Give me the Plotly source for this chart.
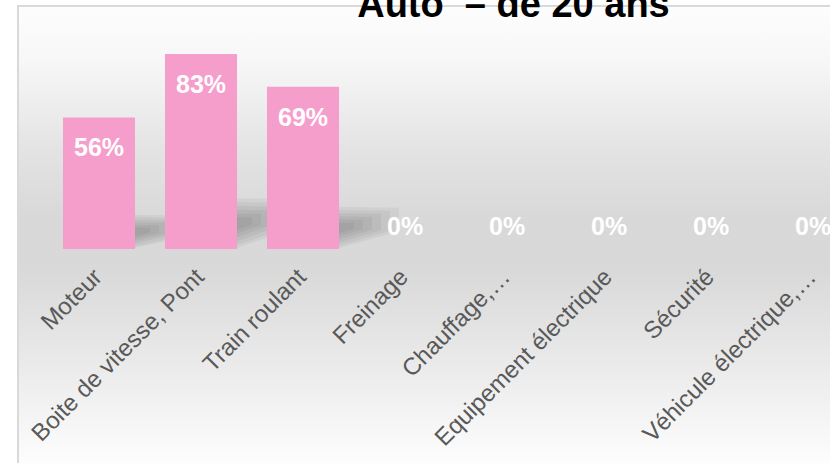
import base64
import plotly.graph_objects as go

categories = ["Moteur", "Boite de vitesse, Pont", "Train roulant", "Freinage",
              "Chauffage,…", "Equipement électrique", "Sécurité", "Véhicule électrique,…"]
values = [56, 83, 69, 0, 0, 0, 0, 0]
labels = [f"{v}%" for v in values]
title = "Auto  – de 20 ans"

W, H = 830, 463
ML, MR, MT, MB = 48, 0, 14, 214
PW, PH = W - ML - MR, H - MT - MB
cat_px = 102
bar_w = 0.706

bar_color = "#F59ECB"
idx = list(range(len(categories)))

svg = f"""<svg xmlns='http://www.w3.org/2000/svg' width='{W}' height='{H}' viewBox='0 0 {W} {H}' preserveAspectRatio='none'>
<defs><linearGradient id='g' gradientUnits='userSpaceOnUse' x1='0' y1='6' x2='0' y2='463'>
<stop offset='0' stop-color='#fdfdfd'/>
<stop offset='0.12' stop-color='#f7f7f7'/>
<stop offset='0.32' stop-color='#e3e3e3'/>
<stop offset='0.47' stop-color='#d8d8d8'/>
<stop offset='0.58' stop-color='#d9d9d9'/>
<stop offset='0.77' stop-color='#e9e9e9'/>
<stop offset='1' stop-color='#fdfdfd'/>
</linearGradient></defs>
<rect x='18' y='6' width='840' height='480' fill='url(#g)' stroke='#d9d9d9' stroke-width='2'/>
</svg>"""
src = "data:image/svg+xml;base64," + base64.b64encode(svg.encode()).decode()

# soft perspective shadows behind the bars (derived from bar position and value)
shapes = []
for i, v in zip(idx, values):
    if v <= 0:
        continue
    h = 0.26 * v                      # shadow height in % units
    xr = i + bar_w / 2                 # right edge of the bar
    L = 60 / cat_px                    # shadow length in category units
    for k in range(6):
        s = 1 - k * 0.15
        c0 = 0.5 * h
        c1 = 0.7 * h
        w0 = 0.5 * h * s
        w1 = 0.28 * h * s
        x1 = xr + L * s
        cm1 = c0 + (c1 - c0) * s
        pts = [(i, max(c0 - w0, 0.4)), (i, c0 + w0), (xr, c0 + w0),
               (x1, cm1 + w1), (x1, cm1 - w1), (xr, max(c0 - w0, 0.4))]
        path = "M " + " L ".join(f"{px},{py}" for px, py in pts) + " Z"
        shapes.append(dict(type="path", path=path, xref="x", yref="y", layer="below",
                           line=dict(width=0), fillcolor="rgba(0,0,0,0.045)"))

fig = go.Figure()
fig.add_trace(go.Bar(x=idx, y=values, marker=dict(color=bar_color, line=dict(width=0)),
                     width=bar_w, hoverinfo="skip"))

for i, v, t in zip(idx, values, labels):
    fig.add_annotation(x=i, y=v, text=f"<b>{t}</b>", showarrow=False,
                       yanchor="middle", xanchor="center",
                       yshift=-30 if v > 0 else 23,
                       font=dict(family="Arial, Liberation Sans", size=25, color="white"))

fig.update_layout(
    width=W, height=H,
    margin=dict(l=ML, r=MR, t=MT, b=MB, autoexpand=False),
    paper_bgcolor="white", plot_bgcolor="rgba(0,0,0,0)",
    showlegend=False,
    shapes=shapes,
    title=dict(text=f"<b>{title}</b>", x=513.5 / W, xanchor="center", xref="container",
               y=1 - 4 / H, yanchor="middle", yref="container",
               font=dict(family="Arial, Liberation Sans", size=38, color="black")),
    images=[dict(source=src, xref="paper", yref="paper", x=-ML / PW, y=1 + MT / PH,
                 sizex=W / PW, sizey=H / PH, xanchor="left", yanchor="top",
                 sizing="stretch", layer="below")],
    xaxis=dict(range=[-0.5, -0.5 + PW / cat_px], tickmode="array", tickvals=idx,
               ticktext=categories, tickangle=-45, showgrid=False,
               showline=False, zeroline=False, ticks="", automargin=False,
               ticklabelstandoff=8, ticklabelshift=-4,
               tickfont=dict(family="Arial, Liberation Sans", size=24, color="#595959")),
    yaxis=dict(range=[0, 100], visible=False, showgrid=False, zeroline=False),
)

fig.write_html("out.html", config={"displayModeBar": False},
               post_script="document.body.style.margin='0';")
